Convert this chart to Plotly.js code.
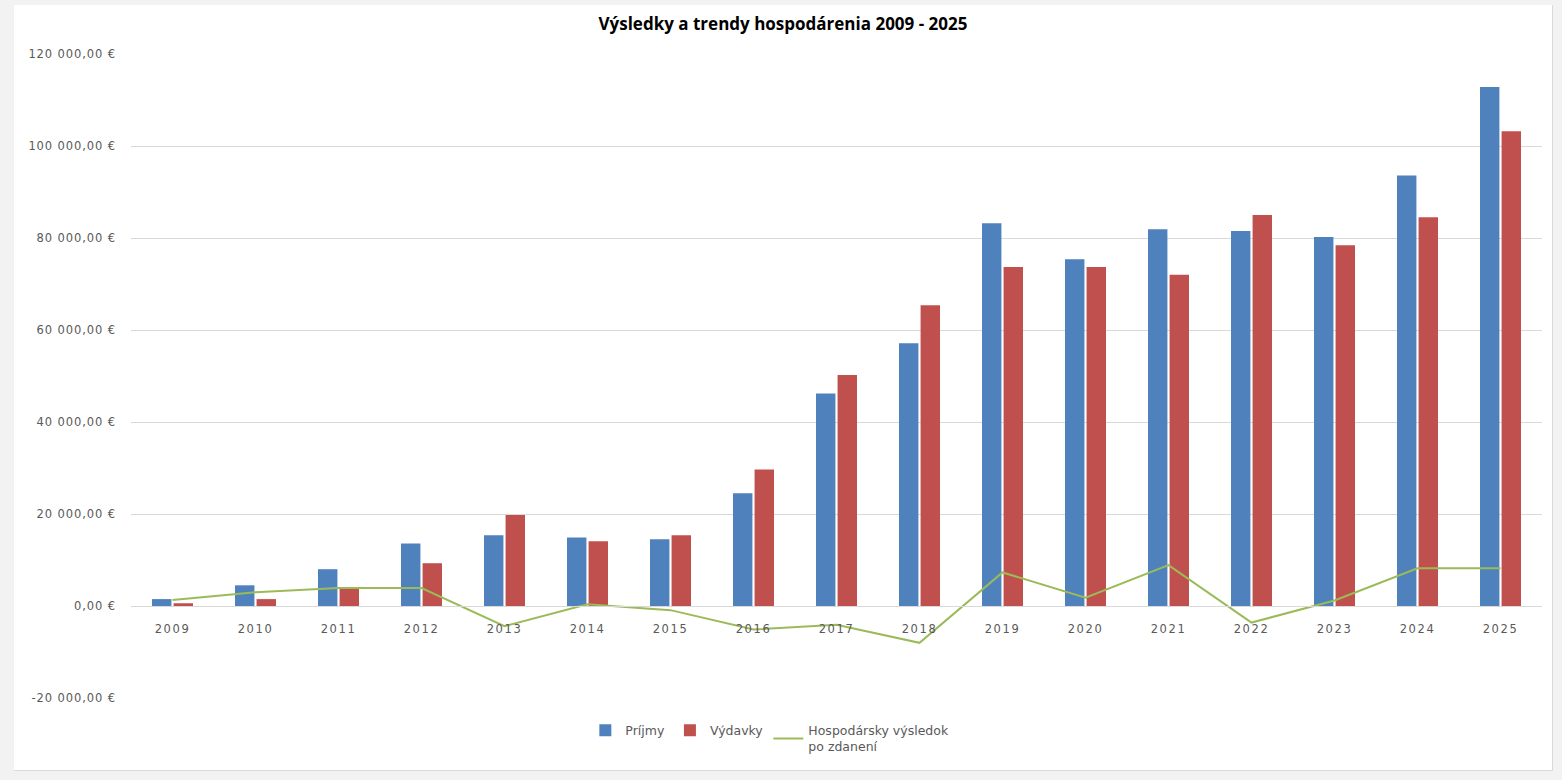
<!DOCTYPE html>
<html>
<head>
<meta charset="utf-8">
<script src="https://cdn.plot.ly/plotly-3.0.1.min.js"></script>
<style>
  html, body { margin: 0; padding: 0; background: #f2f2f2; width: 1562px; height: 780px; overflow: hidden; }
  #panel { position: absolute; left: 14px; top: 5px; width: 1539px; height: 766px; background: #ffffff; border-right: 1px solid #d9d9d9; border-bottom: 1px solid #d9d9d9; box-sizing: border-box; }
  #chart { width: 1538px; height: 765px; }
  #chart .ytick text { letter-spacing: 0.9px; }
  #chart .xtick text { letter-spacing: 1.6px; }
</style>
</head>
<body>
<div id="panel"><div id="chart"></div></div>
<script>
const years = ['2009','2010','2011','2012','2013','2014','2015','2016','2017','2018','2019','2020','2021','2022','2023','2024','2025'];
const prijmy = [1500, 4500, 8000, 13600, 15400, 14900, 14500, 24500, 46200, 57100, 83200, 75400, 81900, 81500, 80200, 93600, 112800];
const vydavky = [600, 1500, 3900, 9300, 19800, 14100, 15400, 29700, 50200, 65400, 73700, 73700, 72000, 85000, 78400, 84500, 103200];
const vysledok = [1300, 3000, 3900, 3900, -4400, 400, -900, -5100, -4100, -8000, 7300, 1800, 8900, -3600, 1200, 8200, 8200];
const yTicks = [-20000, 0, 20000, 40000, 60000, 80000, 100000, 120000];
const yTickText = ['-20 000,00 €', '0,00 €', '20 000,00 €', '40 000,00 €', '60 000,00 €', '80 000,00 €', '100 000,00 €', '120 000,00 €'];

const FONT = '"DejaVu Sans", sans-serif';
const TITLE_FONT = '"Open Sans", sans-serif';
const traces = [
  { type: 'bar', name: 'Príjmy', x: years, y: prijmy, marker: { color: '#4f81bd' } },
  { type: 'bar', name: 'Výdavky', x: years, y: vydavky, marker: { color: '#c0504d' } },
  { type: 'scatter', mode: 'lines', name: 'Hospodársky výsledok<br>po zdanení', x: years, y: vysledok,
    line: { color: '#9bbb59', width: 2 } }
];

const layout = {
  width: 1538, height: 765,
  paper_bgcolor: '#ffffff', plot_bgcolor: '#ffffff',
  margin: { l: 117, r: 10, t: 48.5, b: 72, autoexpand: false },
  font: { family: FONT, size: 11, color: '#595959' },
  title: { text: '<b>Výsledky a trendy hospodárenia 2009 - 2025</b>', x: 0.5, xanchor: 'center',
           y: 0.975, yref: 'container', yanchor: 'middle',
           font: { family: TITLE_FONT, size: 17, color: '#000000' } },
  barmode: 'group', bargap: 0.48, bargroupgap: 0.1,
  xaxis: { type: 'category', anchor: 'free', position: 20000 / 140000,
           showline: true, linecolor: '#d9d9d9', linewidth: 1, showgrid: false,
           ticks: '', ticklabelstandoff: 12, tickfont: { family: FONT, size: 11.5, color: '#595959' } },
  yaxis: { range: [-20000, 120000], tickvals: yTicks, ticktext: yTickText,
           showgrid: true, gridcolor: '#d9d9d9', gridwidth: 1, zeroline: false, showline: false,
           ticks: '', ticklabelstandoff: 14, tickfont: { family: FONT, size: 11.5, color: '#595959' } },
  showlegend: true,
  legend: { orientation: 'h', x: 0.322, xanchor: 'left', yref: 'container', y: 0.071, yanchor: 'top',
            font: { family: FONT, size: 12.5, color: '#595959' }, traceorder: 'normal' }
};

Plotly.newPlot('chart', traces, layout, { displayModeBar: false, staticPlot: true });
</script>
</body>
</html>
